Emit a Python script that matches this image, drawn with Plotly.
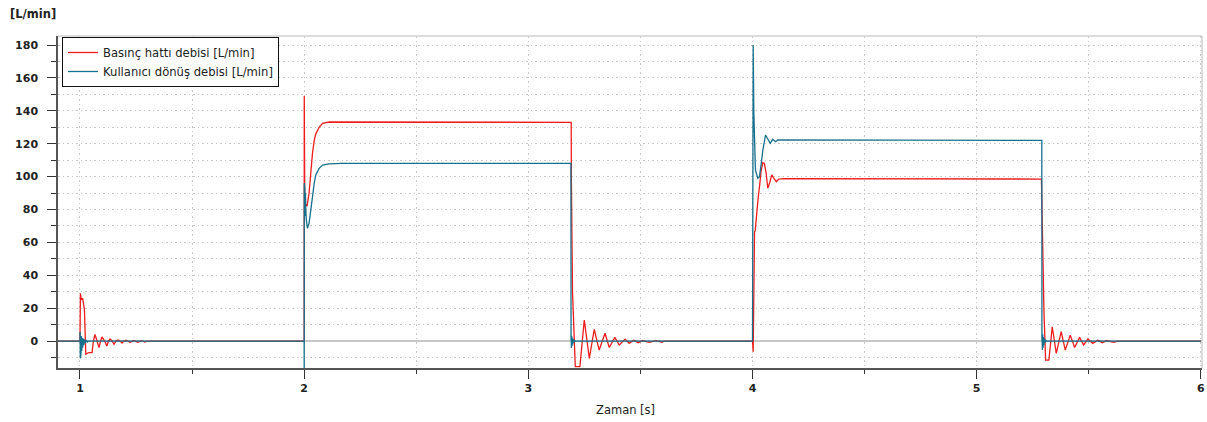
import plotly.graph_objects as go

# ---- data (time in s, flow in L/min) ----
t_red = [0.902, 1.000, 1.002, 1.006, 1.012, 1.016, 1.020, 1.023, 1.026, 1.040, 1.054, 1.060,
         1.067, 1.076, 1.085, 1.092, 1.098, 1.110, 1.120, 1.127, 1.134, 1.143, 1.152, 1.161,
         1.170, 1.179, 1.188, 1.196, 1.205, 1.214, 1.223, 1.240, 1.258, 1.275, 1.290, 1.300,
         2.000, 2.0005, 2.003, 2.008, 2.013, 2.022, 2.030, 2.037, 2.045, 2.052, 2.067, 2.082,
         2.112, 3.1912,
         3.1918, 3.193, 3.197, 3.2095, 3.230, 3.2496, 3.272, 3.294, 3.316, 3.342, 3.361, 3.386,
         3.4055, 3.432, 3.450, 3.470, 3.490, 3.510, 3.540, 3.570, 3.597, 3.605,
         4.000, 4.003, 4.006, 4.009, 4.012, 4.019, 4.025, 4.031, 4.039, 4.046, 4.053, 4.061,
         4.068, 4.076, 4.086, 4.095, 4.106, 4.117, 4.140, 5.2888,
         5.2950, 5.2960, 5.300, 5.3075, 5.322, 5.337, 5.355, 5.377, 5.395, 5.4175, 5.437, 5.459,
         5.477, 5.496, 5.518, 5.540, 5.560, 5.580, 5.610, 5.630, 6.000]
v_red = [0, 0, 29, 25, 26, 23, 19, 5, -8, -7, -7, 0,
         4, 0, -4, 0, 2.5, 0, -3, 0, 1.2, 0, -2, 0,
         0.6, 0, -1.2, 0, 0.5, 0, -0.9, 0.3, -0.7, 0.2, -0.6, 0,
         0, 149, 82, 83, 82, 90, 104, 114, 122, 126, 130, 132.4,
         133.2, 133,
         100, 62, 30, -15.6, -15.6, 12.8, -10.5, 7.1, -5.5, 4.7, -3.9, 2.2,
         -2.4, 1.2, -1.4, 0.5, -1.0, 0.3, -0.8, 0.2, -0.7, 0,
         0, -6.5, 55, 66.5, 67, 79.7, 86.8, 93.9, 104, 108.5, 108, 102,
         92.9, 95.9, 101, 99, 96.9, 98.5, 98.8, 98.5,
         54, 25, 17.8, -11.6, -11.6, 8.7, -7.5, 5.7, -5.5, 3.6, -3.9, 2.2,
         -2.4, 1.2, -1.4, 0.5, -1.0, 0.3, -0.8, 0, 0]

t_blue = [0.902, 1.000, 1.0005, 1.0015, 1.003, 1.0045, 1.006, 1.008, 1.010, 1.012, 1.014,
          1.017, 1.020, 1.024, 1.028, 1.033, 1.036,
          2.000, 2.0003, 2.0006, 2.002, 2.003, 2.0045, 2.006, 2.0075, 2.0095, 2.0145, 2.022,
          2.030, 2.037, 2.045, 2.052, 2.067, 2.082, 2.112, 2.1635, 3.1900,
          3.1905, 3.1910, 3.192, 3.1935, 3.195, 3.1965, 3.198, 3.200, 3.203, 3.206, 3.209,
          4.000, 4.003, 4.006, 4.009, 4.010, 4.011, 4.012, 4.013, 4.0235, 4.031, 4.039, 4.046,
          4.058, 4.068, 4.079, 4.0905, 4.1025, 4.113, 5.2905,
          5.2910, 5.2915, 5.293, 5.2945, 5.296, 5.298, 5.300, 5.3025, 5.305, 5.308, 5.311,
          6.000]
v_blue = [0, 0, 5.7, -10.5, 4, -8, 3, -6, 2, -4, 1.5,
          -2.5, 1, -1.2, 0.5, -0.5, 0,
          0, -20, 96, 78, 93, 76, 90, 80, 74, 68.5, 71.6,
          79.7, 89.8, 96, 101, 105, 107, 107.7, 108, 108,
          0, 3.6, -4.3, 3, -3, 2, -2, 1.2, -1, 0.5, 0,
          0, 180, 138.5, 116, 106, 114, 104, 104, 99, 100, 108, 116,
          125.3, 123.3, 120.3, 122.7, 121.2, 122.3, 122,
          0, 4.9, -5.5, 4, -4, 2.5, -2.5, 1.5, -1, 0.5, 0,
          0]

name_red = "Basınç hattı debisi [L/min]"
name_blue = "Kullanıcı dönüş debisi [L/min]"
x_ticks = [1, 2, 3, 4, 5, 6]
y_ticks = [0, 20, 40, 60, 80, 100, 120, 140, 160, 180]

RED = "#ee1c1c"
BLUE = "#17708c"
GRID = "#c8c8c8"
GDASH = "1.5px,3px"
FONT = "DejaVu Sans"

fig = go.Figure()
fig.add_trace(go.Scatter(x=t_red, y=v_red, mode="lines", name=name_red,
                         line=dict(color=RED, width=1.3)))
fig.add_trace(go.Scatter(x=t_blue, y=v_blue, mode="lines", name=name_blue,
                         line=dict(color=BLUE, width=1.3)))

fig.update_layout(
    width=1207, height=422,
    margin=dict(l=58, r=5, t=36, b=54, autoexpand=False),
    paper_bgcolor="white", plot_bgcolor="white",
    font=dict(family=FONT, size=11, color="#222"),
    showlegend=True,
    legend=dict(x=0.0035, y=0.997, xanchor="left", yanchor="top",
                bgcolor="white", bordercolor="#111", borderwidth=1,
                font=dict(family=FONT, size=11.6, color="#222"),
                tracegroupgap=0, itemwidth=30),
)

fig.update_xaxes(
    automargin=False, ticklabeloverflow="allow",
    range=[0.902, 6.005], tickvals=x_ticks, ticktext=[str(v) for v in x_ticks],
    ticks="outside", ticklen=9, tickwidth=1.3, tickcolor="#333",
    showline=True, linecolor="#555", linewidth=1.5,
    showgrid=True, gridcolor=GRID, griddash=GDASH, gridwidth=1,
    zeroline=False,
    tickfont=dict(family=FONT, size=11, color="#222", weight="bold"),
    minor=dict(dtick=0.5, tick0=0, ticks="outside", ticklen=4, tickcolor="#333",
               showgrid=True, gridcolor=GRID, griddash=GDASH, gridwidth=1),
)
fig.update_yaxes(
    automargin=False, ticklabeloverflow="allow",
    range=[-16.4, 185.5], tickvals=y_ticks, ticktext=[str(v) for v in y_ticks],
    ticks="outside", ticklen=9, tickwidth=1.3, tickcolor="#333",
    ticklabelstandoff=7,
    showline=True, linecolor="#555", linewidth=1.5,
    showgrid=True, gridcolor=GRID, griddash=GDASH, gridwidth=1,
    zeroline=True, zerolinecolor="#c8c8c8", zerolinewidth=1.5,
    tickfont=dict(family=FONT, size=11, color="#222", weight="bold"),
    minor=dict(dtick=10, tick0=0, ticks="outside", ticklen=5, tickcolor="#333",
               showgrid=True, gridcolor=GRID, griddash=GDASH, gridwidth=1),
)

# light frame on top and right
fig.add_shape(type="line", xref="paper", yref="paper", x0=0, x1=1, y0=1, y1=1,
              line=dict(color="#d0d0d0", width=1.5))
fig.add_shape(type="line", xref="paper", yref="paper", x0=1, x1=1, y0=0, y1=1,
              line=dict(color="#d0d0d0", width=1.5))

fig.add_annotation(text="[L/min]", xref="paper", yref="paper", x=-0.0437, y=1.066,
                   xanchor="left", yanchor="middle", showarrow=False,
                   font=dict(family=FONT, size=11.5, color="#222", weight="bold"))
fig.add_annotation(text="Zaman [s]", xref="paper", yref="paper", x=0.4965, y=-0.127,
                   xanchor="center", yanchor="middle", showarrow=False,
                   font=dict(family=FONT, size=11.5, color="#222"))

fig.write_html("out.html",
               config={"displayModeBar": False},
               post_script="document.body.style.margin='0px';"
                           "document.body.style.overflow='hidden';")
